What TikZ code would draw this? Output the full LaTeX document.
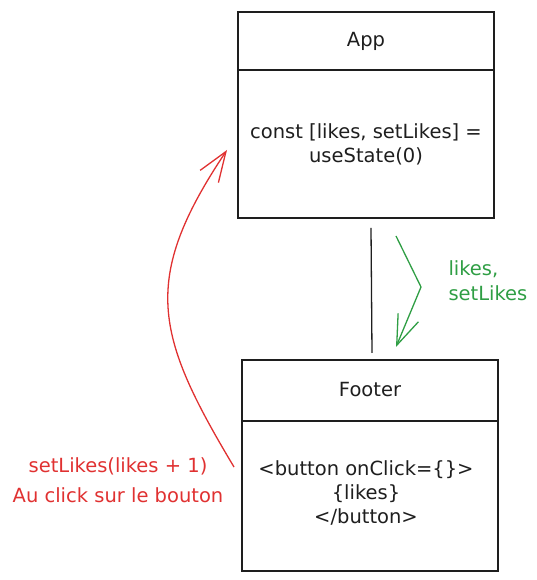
\documentclass[tikz,border=0pt]{standalone}
\usepackage{fontspec}
\setmainfont{DejaVu Sans}
\usetikzlibrary{arrows.meta}
\definecolor{exred}{HTML}{E03131}
\definecolor{exgreen}{HTML}{2F9E44}
\definecolor{exblack}{HTML}{1E1E1E}
\begin{document}
\begin{tikzpicture}[x=1pt,y=1pt,
  box/.style={draw=exblack, line width=1.5pt},
  txt/.style={font=\fontsize{19.5}{24}\selectfont, text=exblack, align=center},
  barb/.style={-{Straight Barb[length=30pt,width=22pt,line width=1.3pt]}}]
\useasboundingbox (0,0) rectangle (537,580);
% App
\draw[box] (238,568) rectangle (494,510);
\draw[box] (238,510) rectangle (494,362);
\node[txt] (apphead) at (366,539) {App};
\node[txt] (appbody) at (366,436) {const [likes, setLikes] =\\useState(0)};
\coordinate (appbot) at (371,352);
\coordinate (appin) at (227,430);
% Footer
\draw[box] (242,220) rectangle (498,159);
\draw[box] (242,159) rectangle (498,9);
\node[txt] (foothead) at (370,190) {Footer};
\node[txt] (footbody) at (366,87) {<button onClick=\{\}>\\\{likes\}\\</button>};
\coordinate (foottop) at (372,227);
\coordinate (footout) at (234,113);
% connector
\draw[exblack, line width=1.3pt] (appbot) -- (foottop);
% green
\coordinate (g1) at (396,344);
\coordinate (g2) at (421,293);
\coordinate (g3) at (396,233);
\draw[exgreen, line width=1.3pt, barb, line join=round] (g1) -- (g2) -- (g3);
\node[font=\fontsize{19.5}{25}\selectfont, text=exgreen, align=left, anchor=west] (glabel) at (445,299) {likes,\\setLikes};
% red
\draw[exred, line width=1.3pt, barb] (footout) .. controls (155,245) and (140,300) .. (appin);
\node[font=\fontsize{19.5}{30}\selectfont, text=exred, align=center] (rlabel) at (118,100) {setLikes(likes + 1)\\Au click sur le bouton};
\end{tikzpicture}
\end{document}
